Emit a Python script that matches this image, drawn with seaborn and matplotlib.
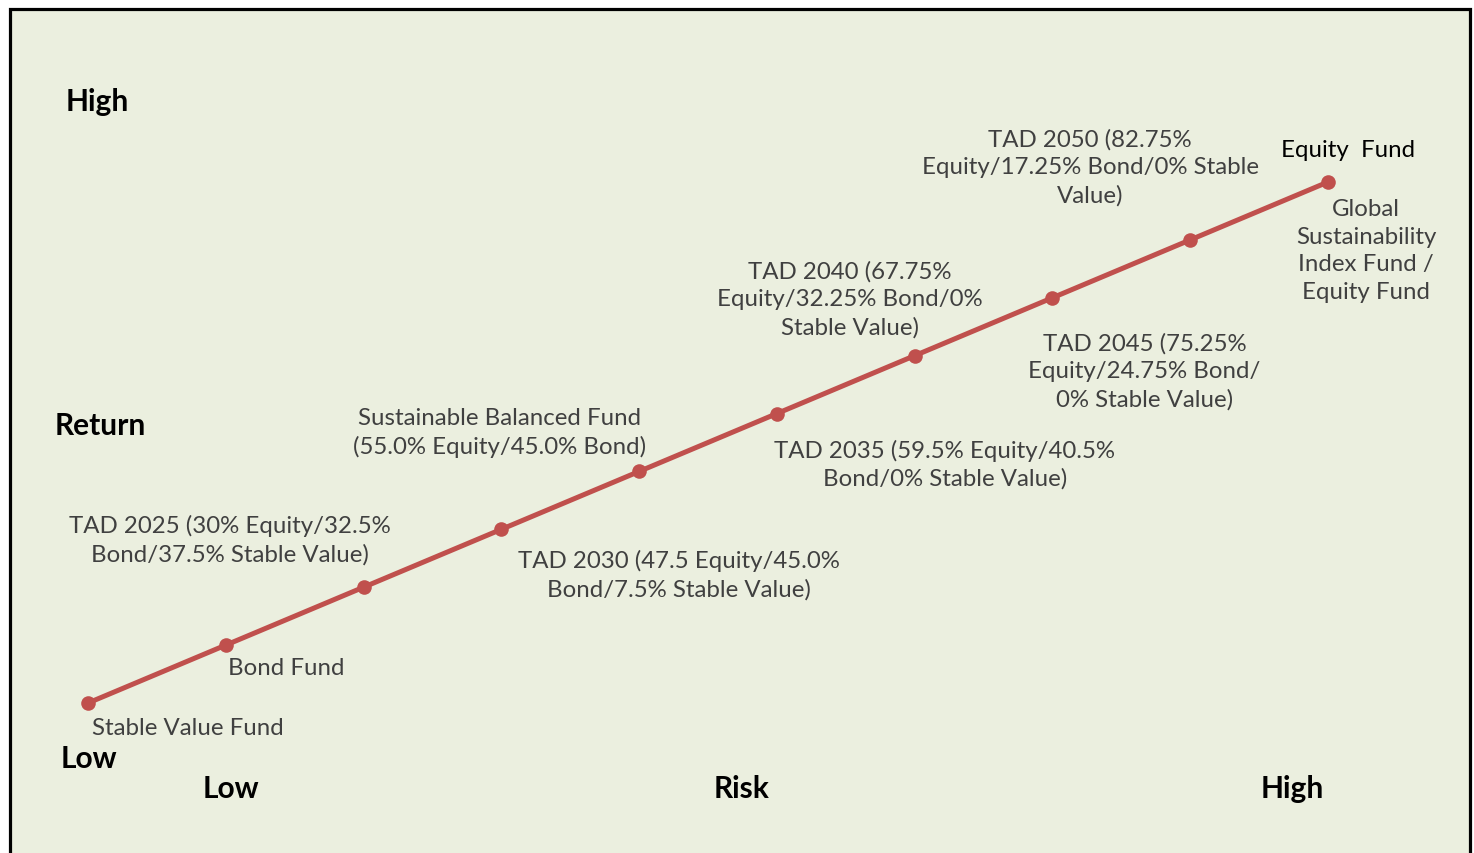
import matplotlib
matplotlib.use("Agg")
import matplotlib.pyplot as plt
from matplotlib.patches import Rectangle
import numpy as np
import pandas as pd
import seaborn as sns

# --- data: relative risk / return rank of each fund ---
funds = [
    "Stable Value Fund",
    "Bond Fund",
    "TAD 2025 (30% Equity/32.5%\nBond/37.5% Stable Value)",
    "TAD 2030 (47.5 Equity/45.0%\nBond/7.5% Stable Value)",
    "Sustainable Balanced Fund\n(55.0% Equity/45.0% Bond)",
    "TAD 2035 (59.5% Equity/40.5%\nBond/0% Stable Value)",
    "TAD 2040 (67.75%\nEquity/32.25% Bond/0%\nStable Value)",
    "TAD 2045 (75.25%\nEquity/24.75% Bond/\n0% Stable Value)",
    "TAD 2050 (82.75%\nEquity/17.25% Bond/0% Stable\nValue)",
    "Global\nSustainability\nIndex Fund /\nEquity Fund",
]
risk = [1, 2, 3, 4, 5, 6, 7, 8, 9, 10]
ret = [1, 2, 3, 4, 5, 6, 7, 8, 9, 10]

# label offsets from each point, in pixels (x right, y up)
label_dx = [100, 60, -134, 178, -140, 168, -65, 92, -100, 38]
label_dy = [-25, -22, 48, -45, 39, -50, 57, -73, 73, -68]

df = pd.DataFrame({"risk": risk, "ret": ret, "fund": funds})

BG = "#EBEFDF"
RED = "#C0504D"
GRAY = "#404040"

sns.set_style("white")
plt.rcParams["font.family"] = ["Lato", "DejaVu Sans"]

fig = plt.figure(figsize=(14.74, 8.54), dpi=100)
fig.patch.set_facecolor("white")
ax = fig.add_axes([0, 0, 1, 1])
ax.set_facecolor("none")
ax.axis("off")

# framed panel (no bottom edge visible)
panel = Rectangle((9.5 / 1474, -0.05), 1460 / 1474, 1 - 9.5 / 854 + 0.05,
                  transform=fig.transFigure, facecolor=BG, edgecolor="black",
                  linewidth=2.3, zorder=-1, clip_on=False)
ax.add_patch(panel)

sns.lineplot(data=df, x="risk", y="ret", ax=ax, color=RED, linewidth=3.6,
             marker="o", markersize=10.5, markeredgewidth=0, sort=False)

# map ranks so the first point sits at (88,704) px and the last at (1328,183) px
sx = (1328 - 88) / 9
sy = (704 - 183) / 9
ax.set_xlim(1 - 88 / sx, 1 + (1474 - 88) / sx)
ax.set_ylim(1 - (854 - 704) / sy, 1 + 704 / sy)

for i, name in enumerate(funds):
    ax.annotate(name, xy=(risk[i], ret[i]), xytext=(label_dx[i], label_dy[i]),
                textcoords="offset pixels", ha="center", va="center",
                multialignment="center", fontsize=17.3, color=GRAY,
                linespacing=1.38)

ax.annotate("Equity  Fund", xy=(risk[-1], ret[-1]), xytext=(20, 32),
            textcoords="offset pixels", ha="center", va="center",
            fontsize=17.3, color="black")

# axis captions
bold = dict(fontsize=21.5, fontweight="bold", color="black", va="center",
            transform=fig.transFigure)
ax.text(66 / 1474, 1 - 102 / 854, "High", ha="left", **bold)
ax.text(55 / 1474, 1 - 426 / 854, "Return", ha="left", **bold)
ax.text(61 / 1474, 1 - 759 / 854, "Low", ha="left", **bold)
ax.text(231 / 1474, 1 - 789 / 854, "Low", ha="center", **bold)
ax.text(742 / 1474, 1 - 789 / 854, "Risk", ha="center", **bold)
ax.text(1292 / 1474, 1 - 789 / 854, "High", ha="center", **bold)

fig.savefig("out.png", dpi=100, facecolor="white")
